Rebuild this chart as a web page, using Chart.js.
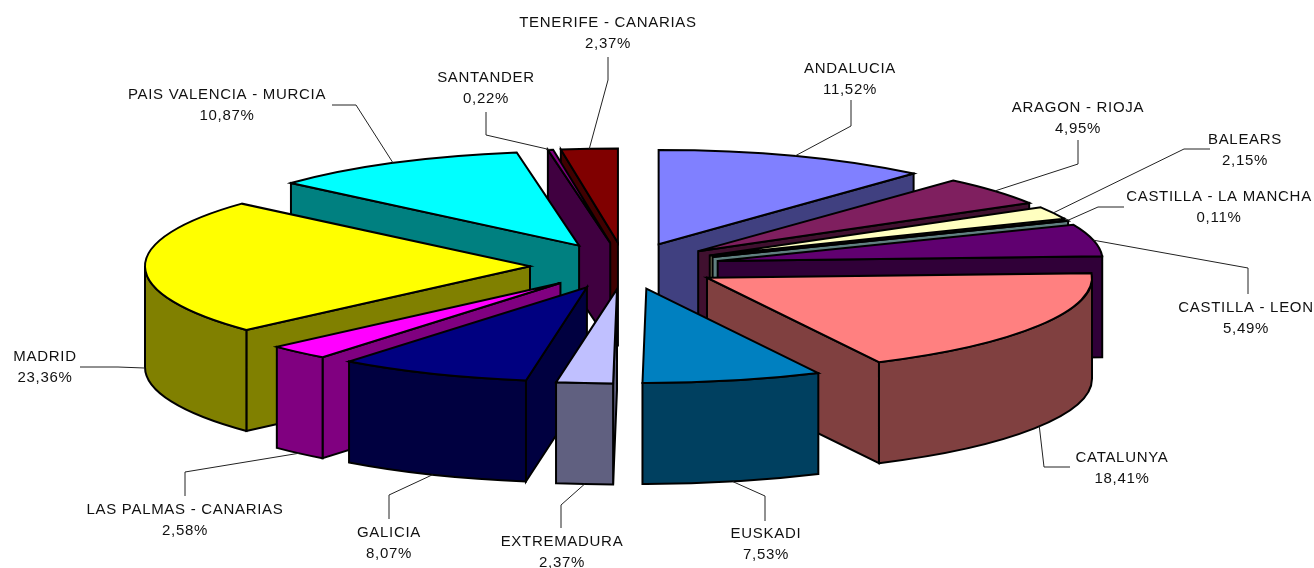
<!DOCTYPE html>
<html>
<head>
<meta charset="utf-8">
<style>
  html, body { margin: 0; padding: 0; background: #fff; }
  canvas { display: block; }
</style>
<script src="https://cdn.jsdelivr.net/npm/chart.js@4/dist/chart.umd.min.js"></script>
</head>
<body>
<canvas id="myChart" width="1314" height="568"></canvas>
<script>
  var categories = ["ANDALUCIA", "ARAGON - RIOJA", "BALEARS", "CASTILLA - LA MANCHA", "CASTILLA - LEON",
    "CATALUNYA", "EUSKADI", "EXTREMADURA", "GALICIA", "LAS PALMAS - CANARIAS", "MADRID",
    "PAIS VALENCIA - MURCIA", "SANTANDER", "TENERIFE - CANARIAS"];
  var shares = [11.52, 4.95, 2.15, 0.11, 5.49, 18.41, 7.53, 2.37, 8.07, 2.58, 23.36, 10.87, 0.22, 2.37];
  var tickLabels = ["11,52%", "4,95%", "2,15%", "0,11%", "5,49%", "18,41%", "7,53%", "2,37%", "8,07%",
    "2,58%", "23,36%", "10,87%", "0,22%", "2,37%"];
  var topColors = ["#8080FF", "#7F1F5F", "#FFFFC0", "#C0FFFF", "#600070", "#FF8080", "#0080C0", "#C0C0FF",
    "#000080", "#FF00FF", "#FFFF00", "#00FFFF", "#800080", "#800000"];
  var wallColors = ["#404080", "#40102F", "#808060", "#608080", "#300038", "#804040", "#004060", "#606080",
    "#000040", "#800080", "#808000", "#008080", "#400040", "#400000"];

  // label layout: text centre, first line baseline, then leader start and elbow
  var labelX = [850, 1078, 1245, 1219, 1246, 1122, 766, 562, 389, 185, 45, 227, 486, 608];
  var labelY = [73, 112, 144, 201, 312, 462, 538, 546, 537, 514, 361, 99, 82, 27];
  var leaderStart = [[851, 100], [1078, 140], [1210, 149], [1124, 207], [1248, 294], [1070, 467], [765, 521],
    [561, 528], [389, 519], [185, 496], [80, 367], [332, 105], [486, 112], [608, 57]];
  var leaderElbow = [[851, 126], [1078, 164], [1184, 149], [1098, 207], [1248, 268], [1044, 467], [765, 496],
    [561, 505], [389, 495], [185, 472], [118, 367], [356, 105], [486, 135], [608, 80]];

  var tilt = 0.245;     // ellipse height / width of the pie top
  var depth = 101;      // wall height in px
  var explode = 95;     // how far each slice is pulled out

  function apexOf(arc) {
    var mid = (arc.startAngle + arc.endAngle) / 2;
    return { x: arc.x + Math.cos(mid) * explode, y: arc.y + Math.sin(mid) * explode * tilt, mid: mid };
  }

  function rimPoint(a, r, t) {
    return { x: a.x + Math.cos(t) * r, y: a.y + Math.sin(t) * r * tilt };
  }

  function radialWall(ctx, a, p) {
    ctx.beginPath();
    ctx.moveTo(a.x, a.y);
    ctx.lineTo(p.x, p.y);
    ctx.lineTo(p.x, p.y + depth);
    ctx.lineTo(a.x, a.y + depth);
    ctx.closePath();
    ctx.fill();
    ctx.stroke();
  }

  function outerWall(ctx, a, r, from, to) {
    ctx.beginPath();
    ctx.ellipse(a.x, a.y, r, r * tilt, 0, from, to);
    ctx.ellipse(a.x, a.y + depth, r, r * tilt, 0, to, from, true);
    ctx.closePath();
    ctx.fill();
    ctx.stroke();
  }

  function drawSlice(ctx, arc, i) {
    var a = apexOf(arc);
    var r = arc.outerRadius;
    var s = arc.startAngle;
    var e = arc.endAngle;

    ctx.lineWidth = 2;
    ctx.lineJoin = "miter";
    ctx.strokeStyle = "#000";
    ctx.fillStyle = wallColors[i];

    if (Math.cos(s) < 0) radialWall(ctx, a, rimPoint(a, r, s));
    if (Math.cos(e) > 0) radialWall(ctx, a, rimPoint(a, r, e));

    // front part of the rim only, angle runs clockwise from -PI/2
    var from = Math.max(s, 0);
    var to = Math.min(e, Math.PI);
    if (to > from) outerWall(ctx, a, r, from, to);

    // top face, painted by the arc element itself on a squashed canvas
    ctx.save();
    ctx.translate(a.x, a.y);
    ctx.scale(1, tilt);
    ctx.translate(-arc.x, -arc.y);
    arc.draw(ctx);
    ctx.restore();

    ctx.beginPath();
    ctx.moveTo(a.x, a.y);
    ctx.ellipse(a.x, a.y, r, r * tilt, 0, s, e);
    ctx.closePath();
    ctx.stroke();
  }

  function drawLabel(ctx, arc, i) {
    var a = apexOf(arc);
    var end = rimPoint(a, arc.outerRadius, a.mid);
    if (Math.sin(a.mid) > 0) end.y += depth;

    ctx.lineWidth = 1;
    ctx.strokeStyle = "#222";
    ctx.beginPath();
    ctx.moveTo(leaderStart[i][0], leaderStart[i][1]);
    ctx.lineTo(leaderElbow[i][0], leaderElbow[i][1]);
    ctx.lineTo(end.x, end.y);
    ctx.stroke();

    ctx.fillStyle = "#111";
    ctx.font = "15px 'Liberation Sans', Arial, sans-serif";
    ctx.letterSpacing = "0.7px";
    ctx.textAlign = "center";
    ctx.textBaseline = "alphabetic";
    ctx.fillText(categories[i], labelX[i], labelY[i]);
    ctx.fillText(tickLabels[i], labelX[i], labelY[i] + 21);
  }

  // Chart.js has no 3D pie, so the slices get painted back to front here
  var pie3d = {
    id: "pie3d",
    beforeDatasetDraw: function (chart, args) {
      var ctx = chart.ctx;
      var arcs = args.meta.data;
      var order = arcs.map(function (arc, i) { return i; });
      order.sort(function (p, q) {
        return Math.sin(apexOf(arcs[p]).mid) - Math.sin(apexOf(arcs[q]).mid);
      });
      order.forEach(function (i) { drawSlice(ctx, arcs[i], i); });
      arcs.forEach(function (arc, i) { drawLabel(ctx, arc, i); });
      return false;
    }
  };

  var ctx = document.getElementById("myChart").getContext("2d");
  var chart = new Chart(ctx, {
    type: "pie",
    data: {
      labels: categories,
      datasets: [
        {
          data: shares,
          backgroundColor: topColors,
          borderWidth: 0,
        },
      ],
    },
    options: {
      responsive: false,
      animation: false,
      radius: 385,
      layout: { padding: { right: 64, bottom: 36 } },
      plugins: {
        legend: { display: false },
        tooltip: { enabled: false },
      },
    },
    plugins: [pie3d],
  });
</script>
</body>
</html>
